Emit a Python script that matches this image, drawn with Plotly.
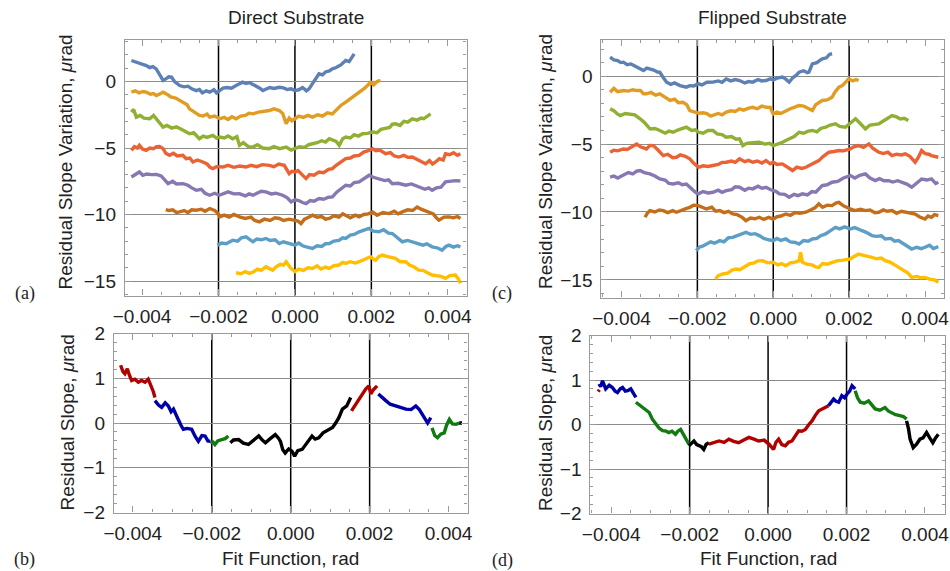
import plotly.graph_objects as go
from plotly.subplots import make_subplots

# ---------------- DATA (x in mrad, y in µrad) ----------------
series_colors = ["#5E81B5", "#E19C24", "#8FB032", "#EB6235", "#8778B3", "#C56E1A", "#5D9EC7", "#FFBF00"]

direct_1 = [(-4.28,1.58),(-4.15,1.45),(-4.05,1.38),(-3.95,1.25),(-3.89,1.2),(-3.8,1.05),(-3.72,1.12),(-3.63,0.95),(-3.55,0.6),(-3.45,0.08),(-3.38,0.2),(-3.3,0.35),(-3.23,0.33),(-3.15,0.0),(-3.08,-0.15),(-3.02,-0.3),(-2.9,-0.4),(-2.8,-0.35),(-2.7,-0.55),(-2.58,-0.68),(-2.5,-0.6),(-2.42,-0.85),(-2.32,-0.7),(-2.23,-0.8),(-2.12,-0.62),(-2.05,-0.85),(-1.97,-0.68),(-1.88,-0.5),(-1.78,-0.45),(-1.66,-0.5),(-1.54,-0.3),(-1.45,-0.18),(-1.37,-0.05),(-1.28,-0.15),(-1.2,-0.08),(-1.1,-0.22),(-1.0,-0.35),(-0.92,-0.5),(-0.84,-0.68),(-0.75,-0.55),(-0.66,-0.45),(-0.55,-0.52),(-0.41,-0.43),(-0.3,-0.48),(-0.2,-0.6),(-0.1,-0.55),(0,-0.68),(0.1,-0.62),(0.2,-0.45),(0.3,-0.7),(0.37,-0.55),(0.45,-0.2),(0.55,0.25),(0.63,0.58),(0.72,0.5),(0.8,0.72),(0.9,0.8),(0.98,0.95),(1.08,1.05),(1.2,1.25),(1.33,1.58),(1.42,1.5),(1.5,1.85),(1.55,2.08)]
direct_2 = [(-4.28,-0.8),(-4.18,-0.7),(-4.08,-0.85),(-3.98,-0.75),(-3.89,-0.8),(-3.78,-0.95),(-3.7,-0.9),(-3.63,-1.05),(-3.55,-0.95),(-3.45,-0.8),(-3.35,-0.95),(-3.25,-1.15),(-3.12,-1.25),(-3.02,-1.43),(-2.9,-1.6),(-2.82,-1.75),(-2.76,-2.05),(-2.65,-2.3),(-2.58,-2.4),(-2.5,-2.55),(-2.4,-2.6),(-2.3,-2.45),(-2.23,-2.68),(-2.1,-2.6),(-1.97,-2.8),(-1.85,-2.7),(-1.75,-2.85),(-1.65,-2.65),(-1.54,-2.8),(-1.42,-2.6),(-1.3,-2.55),(-1.2,-2.38),(-1.1,-2.43),(-0.95,-2.3),(-0.8,-2.25),(-0.67,-2.18),(-0.55,-2.05),(-0.41,-2.18),(-0.32,-2.4),(-0.23,-3.18),(-0.15,-2.75),(-0.08,-2.95),(0,-2.8),(0.1,-2.6),(0.22,-2.7),(0.34,-2.55),(0.46,-2.68),(0.6,-2.5),(0.72,-2.6),(0.85,-2.35),(0.98,-2.43),(1.1,-2.05),(1.2,-1.8),(1.33,-1.55),(1.45,-1.3),(1.56,-1.1),(1.68,-0.8),(1.8,-0.55),(1.9,-0.3),(1.98,-0.05),(2.06,-0.25),(2.15,0.0),(2.24,0.08)]
direct_3 = [(-4.28,-2.3),(-4.22,-2.1),(-4.15,-2.68),(-4.05,-2.55),(-3.95,-2.75),(-3.8,-2.8),(-3.7,-2.55),(-3.6,-2.9),(-3.45,-3.43),(-3.35,-3.3),(-3.22,-3.5),(-3.1,-3.4),(-3.02,-3.55),(-2.9,-3.7),(-2.76,-3.93),(-2.65,-3.85),(-2.5,-4.3),(-2.4,-4.1),(-2.3,-4.2),(-2.15,-4.05),(-2.05,-4.25),(-1.97,-4.18),(-1.85,-4.25),(-1.75,-4.1),(-1.63,-4.3),(-1.52,-4.15),(-1.45,-4.8),(-1.35,-4.6),(-1.22,-4.9),(-1.1,-4.93),(-0.98,-4.75),(-0.85,-5.0),(-0.67,-5.05),(-0.55,-4.9),(-0.4,-5.05),(-0.23,-4.93),(-0.1,-5.15),(0,-5.05),(0.12,-4.9),(0.25,-4.95),(0.36,-4.75),(0.46,-4.68),(0.58,-4.6),(0.7,-4.45),(0.8,-4.55),(0.9,-4.3),(1.0,-4.4),(1.08,-4.5),(1.16,-4.8),(1.25,-4.3),(1.33,-4.18),(1.45,-4.25),(1.55,-4.0),(1.66,-4.1),(1.77,-3.93),(1.9,-3.9),(2.03,-3.8),(2.15,-3.85),(2.25,-3.6),(2.37,-3.55),(2.48,-3.45),(2.55,-3.2),(2.63,-3.18),(2.75,-3.3),(2.85,-3.0),(2.95,-3.05),(3.07,-2.8),(3.2,-2.9),(3.3,-2.75),(3.37,-2.8),(3.45,-2.65),(3.55,-2.43)]
direct_4 = [(-4.28,-5.18),(-4.2,-4.9),(-4.12,-5.0),(-4.07,-4.8),(-3.98,-5.1),(-3.89,-5.18),(-3.8,-5.0),(-3.7,-5.05),(-3.62,-4.9),(-3.54,-4.88),(-3.45,-5.05),(-3.38,-5.4),(-3.28,-5.55),(-3.18,-5.4),(-3.08,-5.6),(-2.93,-5.55),(-2.85,-5.8),(-2.75,-5.75),(-2.67,-6.05),(-2.55,-5.9),(-2.41,-6.05),(-2.3,-6.2),(-2.22,-6.45),(-2.15,-6.55),(-2.05,-6.4),(-1.89,-6.43),(-1.75,-6.3),(-1.6,-6.45),(-1.45,-6.35),(-1.28,-6.43),(-1.15,-6.3),(-1.0,-6.4),(-0.85,-6.25),(-0.67,-6.3),(-0.55,-6.4),(-0.42,-6.2),(-0.28,-6.3),(-0.2,-6.7),(-0.15,-6.93),(-0.08,-6.75),(0,-6.8),(0.08,-6.7),(0.18,-7.0),(0.29,-7.3),(0.38,-7.0),(0.5,-7.05),(0.63,-6.8),(0.75,-6.85),(0.88,-6.6),(0.98,-6.55),(1.08,-6.3),(1.18,-6.1),(1.33,-5.8),(1.45,-5.75),(1.55,-5.6),(1.68,-5.55),(1.8,-5.3),(1.92,-5.2),(2.03,-5.05),(2.12,-5.2),(2.22,-5.15),(2.37,-5.43),(2.5,-5.35),(2.6,-5.6),(2.72,-5.68),(2.85,-5.55),(2.95,-5.7),(3.07,-5.68),(3.2,-5.85),(3.3,-6.0),(3.42,-6.18),(3.52,-5.95),(3.6,-6.2),(3.68,-6.05),(3.78,-5.8),(3.88,-5.9),(3.94,-5.43),(4.05,-5.5),(4.15,-5.35),(4.25,-5.55),(4.33,-5.43)]
direct_5 = [(-4.28,-7.18),(-4.2,-7.05),(-4.12,-6.95),(-4.07,-6.8),(-3.98,-7.05),(-3.88,-6.95),(-3.75,-7.0),(-3.63,-6.98),(-3.5,-7.1),(-3.4,-7.45),(-3.32,-7.68),(-3.2,-7.5),(-3.1,-7.7),(-2.93,-7.68),(-2.8,-7.8),(-2.7,-8.0),(-2.58,-8.18),(-2.45,-8.1),(-2.35,-8.4),(-2.23,-8.55),(-2.1,-8.4),(-1.98,-8.55),(-1.89,-8.43),(-1.75,-8.3),(-1.6,-8.45),(-1.45,-8.43),(-1.3,-8.6),(-1.2,-8.45),(-1.1,-8.55),(-0.98,-8.35),(-0.88,-8.25),(-0.76,-8.3),(-0.62,-8.45),(-0.5,-8.4),(-0.32,-8.55),(-0.2,-8.75),(-0.1,-9.05),(0.0,-8.9),(0.1,-8.95),(0.2,-9.1),(0.29,-9.18),(0.4,-8.95),(0.5,-9.0),(0.63,-8.8),(0.75,-8.85),(0.88,-8.7),(0.98,-8.68),(1.1,-8.3),(1.2,-8.1),(1.33,-7.8),(1.45,-7.85),(1.55,-7.6),(1.68,-7.55),(1.8,-7.3),(1.94,-7.05),(2.05,-7.2),(2.2,-7.3),(2.35,-7.45),(2.45,-7.4),(2.55,-7.68),(2.7,-7.65),(2.9,-7.8),(3.05,-7.7),(3.24,-7.93),(3.4,-8.1),(3.5,-8.0),(3.59,-8.18),(3.7,-8.0),(3.82,-7.95),(3.94,-7.55),(4.05,-7.5),(4.2,-7.45),(4.33,-7.48)]
direct_6 = [(-3.38,-9.63),(-3.3,-9.7),(-3.2,-9.65),(-3.1,-9.85),(-3.02,-9.8),(-2.9,-9.7),(-2.8,-9.85),(-2.7,-9.65),(-2.58,-9.68),(-2.45,-9.6),(-2.35,-9.75),(-2.23,-9.55),(-2.1,-9.7),(-2.02,-9.9),(-1.97,-10.18),(-1.85,-10.05),(-1.72,-10.2),(-1.6,-10.0),(-1.45,-10.18),(-1.3,-10.3),(-1.15,-10.2),(-1.05,-10.45),(-0.93,-10.55),(-0.8,-10.35),(-0.65,-10.45),(-0.52,-10.25),(-0.41,-10.3),(-0.3,-10.45),(-0.15,-10.35),(0,-10.43),(0.08,-10.5),(0.16,-10.68),(0.25,-10.35),(0.36,-10.2),(0.46,-10.05),(0.58,-10.2),(0.7,-10.15),(0.8,-10.35),(0.9,-10.3),(1.02,-10.1),(1.15,-10.2),(1.25,-9.95),(1.33,-10.05),(1.45,-10.25),(1.58,-10.05),(1.68,-10.18),(1.8,-10.0),(1.92,-9.95),(2.03,-9.8),(2.15,-10.05),(2.3,-9.85),(2.46,-9.93),(2.6,-9.75),(2.7,-9.95),(2.81,-9.8),(2.95,-9.65),(3.08,-9.7),(3.2,-9.43),(3.3,-9.6),(3.4,-9.7),(3.5,-9.8),(3.62,-9.95),(3.7,-10.25),(3.77,-10.43),(3.9,-10.2),(4.03,-10.18),(4.15,-10.25),(4.25,-10.15),(4.33,-10.3)]
direct_7 = [(-2.03,-12.3),(-1.92,-12.15),(-1.8,-12.2),(-1.7,-12.0),(-1.63,-11.93),(-1.5,-12.0),(-1.4,-11.75),(-1.28,-11.68),(-1.2,-11.85),(-1.1,-12.05),(-1.0,-11.85),(-0.88,-11.9),(-0.76,-11.8),(-0.65,-11.95),(-0.52,-11.9),(-0.41,-12.18),(-0.3,-12.05),(-0.15,-12.2),(0,-12.3),(0.1,-12.15),(0.2,-12.35),(0.32,-12.45),(0.46,-12.55),(0.58,-12.35),(0.7,-12.4),(0.8,-12.2),(0.9,-12.18),(1.02,-12.0),(1.15,-11.95),(1.25,-11.75),(1.33,-11.8),(1.45,-11.55),(1.55,-11.5),(1.68,-11.3),(1.8,-11.2),(1.94,-11.05),(2.05,-11.25),(2.2,-11.3),(2.32,-11.15),(2.45,-11.4),(2.55,-11.43),(2.65,-11.7),(2.81,-12.05),(2.95,-11.95),(3.1,-12.1),(3.24,-12.18),(3.35,-12.3),(3.45,-12.2),(3.59,-12.43),(3.72,-12.5),(3.85,-12.68),(3.95,-12.4),(4.03,-12.3),(4.15,-12.45),(4.25,-12.35),(4.33,-12.43)]
direct_8 = [(-1.54,-14.38),(-1.42,-14.45),(-1.3,-14.3),(-1.19,-14.43),(-1.08,-14.3),(-0.98,-14.1),(-0.88,-14.2),(-0.76,-13.93),(-0.68,-14.05),(-0.58,-14.18),(-0.48,-13.9),(-0.38,-13.75),(-0.3,-13.8),(-0.23,-13.55),(-0.12,-14.0),(0,-14.3),(0.1,-14.1),(0.22,-14.2),(0.34,-14.0),(0.46,-14.05),(0.58,-13.85),(0.68,-14.1),(0.8,-13.95),(0.9,-14.05),(1.02,-13.85),(1.15,-13.8),(1.25,-13.6),(1.33,-13.68),(1.45,-13.55),(1.58,-13.65),(1.68,-13.55),(1.8,-13.4),(1.9,-13.3),(1.98,-13.18),(2.05,-13.35),(2.11,-13.43),(2.2,-13.15),(2.29,-13.05),(2.4,-13.15),(2.52,-13.2),(2.63,-13.3),(2.75,-13.55),(2.9,-13.55),(3.0,-13.8),(3.12,-13.95),(3.24,-14.18),(3.35,-14.2),(3.48,-14.4),(3.59,-14.55),(3.7,-14.6),(3.82,-14.65),(3.94,-14.8),(4.05,-14.6),(4.2,-14.55),(4.28,-14.85),(4.33,-15.18)]

flipped_1 = [(-4.3,1.4),(-4.2,1.2),(-4.1,1.15),(-4.02,1.0),(-3.95,1.03),(-3.85,0.85),(-3.75,0.9),(-3.6,0.66),(-3.5,0.55),(-3.42,0.42),(-3.33,0.6),(-3.25,0.54),(-3.15,0.45),(-3.05,0.3),(-2.99,0.29),(-2.9,-0.1),(-2.81,-0.44),(-2.7,-0.6),(-2.6,-0.5),(-2.46,-0.69),(-2.38,-0.75),(-2.29,-0.81),(-2.2,-0.7),(-2.1,-0.72),(-1.97,-0.57),(-1.88,-0.65),(-1.75,-0.45),(-1.59,-0.44),(-1.45,-0.35),(-1.35,-0.45),(-1.24,-0.2),(-1.12,-0.35),(-1.0,-0.25),(-0.89,-0.32),(-0.75,-0.5),(-0.65,-0.4),(-0.54,-0.44),(-0.4,-0.25),(-0.3,-0.35),(-0.19,-0.32),(-0.08,-0.2),(0,-0.27),(0.1,-0.15),(0.24,-0.07),(0.32,-0.2),(0.42,-0.44),(0.52,-0.1),(0.6,0.05),(0.68,0.29),(0.8,0.4),(0.9,0.25),(0.94,0.29),(1.03,0.91),(1.15,1.0),(1.22,1.15),(1.29,1.28),(1.4,1.35),(1.48,1.6),(1.55,1.65)]
flipped_2 = [(-4.3,-1.18),(-4.2,-0.9),(-4.1,-1.15),(-3.95,-1.06),(-3.82,-1.1),(-3.7,-1.0),(-3.6,-1.06),(-3.5,-1.05),(-3.42,-1.3),(-3.34,-1.3),(-3.22,-1.2),(-3.1,-1.4),(-2.99,-1.3),(-2.85,-1.55),(-2.72,-1.79),(-2.6,-1.7),(-2.5,-1.95),(-2.38,-1.92),(-2.28,-2.1),(-2.2,-2.53),(-2.1,-2.6),(-1.97,-2.73),(-1.85,-2.7),(-1.75,-2.75),(-1.65,-2.95),(-1.59,-2.9),(-1.45,-2.75),(-1.35,-2.85),(-1.24,-2.65),(-1.12,-2.55),(-1.0,-2.6),(-0.89,-2.41),(-0.78,-2.5),(-0.65,-2.35),(-0.54,-2.29),(-0.42,-2.4),(-0.3,-2.2),(-0.19,-2.29),(-0.08,-2.3),(0,-2.78),(0.1,-2.65),(0.2,-2.75),(0.33,-2.53),(0.45,-2.4),(0.55,-2.3),(0.68,-2.16),(0.8,-2.2),(0.92,-2.35),(1.03,-2.53),(1.12,-2.1),(1.2,-1.95),(1.29,-1.79),(1.42,-1.75),(1.55,-1.55),(1.62,-1.2),(1.73,-0.81),(1.82,-0.7),(1.9,-0.45),(1.99,-0.2),(2.1,-0.35),(2.18,-0.25),(2.25,-0.32)]
flipped_3 = [(-4.3,-2.41),(-4.2,-2.55),(-4.1,-2.8),(-4.03,-2.9),(-3.9,-2.75),(-3.77,-2.78),(-3.65,-2.85),(-3.51,-3.14),(-3.4,-3.4),(-3.25,-3.88),(-3.12,-3.85),(-2.99,-4.0),(-2.85,-4.2),(-2.75,-4.05),(-2.64,-4.13),(-2.5,-3.95),(-2.4,-3.85),(-2.29,-3.76),(-2.15,-4.0),(-2.05,-3.95),(-1.97,-4.13),(-1.85,-4.2),(-1.72,-4.0),(-1.59,-4.0),(-1.48,-4.25),(-1.35,-4.3),(-1.24,-4.5),(-1.1,-4.45),(-0.98,-4.65),(-0.89,-4.62),(-0.8,-5.11),(-0.7,-4.95),(-0.55,-4.9),(-0.37,-4.86),(-0.22,-5.0),(-0.1,-4.95),(0,-5.11),(0.12,-5.0),(0.22,-4.9),(0.33,-4.74),(0.45,-4.55),(0.55,-4.45),(0.68,-4.13),(0.8,-4.2),(0.92,-4.05),(1.03,-4.0),(1.15,-4.1),(1.25,-3.85),(1.38,-3.76),(1.5,-3.6),(1.64,-3.51),(1.75,-3.7),(1.9,-3.76),(2.0,-3.5),(2.1,-3.3),(2.17,-3.14),(2.28,-3.45),(2.43,-3.88),(2.55,-3.6),(2.65,-3.55),(2.78,-3.51),(2.9,-3.3),(3.0,-3.1),(3.13,-2.9),(3.25,-3.0),(3.35,-3.15),(3.45,-3.1),(3.56,-3.27)]
flipped_4 = [(-4.3,-5.6),(-4.2,-5.45),(-4.1,-5.5),(-3.95,-5.36),(-3.85,-5.4),(-3.72,-5.2),(-3.6,-4.99),(-3.5,-5.2),(-3.42,-5.3),(-3.34,-5.36),(-3.25,-5.1),(-3.16,-5.11),(-3.05,-5.4),(-2.9,-5.85),(-2.78,-5.75),(-2.65,-6.0),(-2.55,-5.97),(-2.45,-5.8),(-2.32,-5.9),(-2.2,-6.09),(-2.1,-6.4),(-1.97,-6.71),(-1.85,-6.6),(-1.72,-6.65),(-1.59,-6.58),(-1.45,-6.5),(-1.35,-6.35),(-1.24,-6.34),(-1.1,-6.25),(-1.0,-6.35),(-0.89,-6.09),(-0.75,-6.3),(-0.65,-6.2),(-0.54,-6.34),(-0.42,-6.25),(-0.3,-6.4),(-0.19,-6.22),(-0.08,-6.45),(0,-6.34),(0.1,-6.5),(0.24,-6.46),(0.38,-6.7),(0.51,-6.95),(0.62,-6.7),(0.75,-6.8),(0.86,-6.71),(0.98,-6.55),(1.1,-6.4),(1.2,-6.22),(1.32,-5.9),(1.47,-5.6),(1.6,-5.55),(1.73,-5.48),(1.85,-5.5),(2.03,-5.36),(2.12,-5.2),(2.25,-5.11),(2.38,-5.25),(2.52,-4.99),(2.62,-5.3),(2.78,-5.6),(2.9,-5.7),(3.02,-5.6),(3.13,-5.85),(3.25,-5.75),(3.38,-5.8),(3.48,-5.72),(3.6,-5.9),(3.74,-6.34),(3.82,-6.0),(3.91,-5.48),(4.0,-5.7),(4.1,-5.75),(4.17,-5.85),(4.28,-5.9),(4.35,-5.97)]
flipped_5 = [(-4.3,-7.44),(-4.2,-7.35),(-4.1,-7.5),(-3.95,-7.32),(-3.82,-7.1),(-3.7,-7.2),(-3.6,-7.0),(-3.51,-6.95),(-3.4,-7.1),(-3.25,-7.2),(-3.12,-7.35),(-2.99,-7.57),(-2.85,-7.65),(-2.75,-7.9),(-2.64,-7.94),(-2.5,-7.85),(-2.4,-8.0),(-2.29,-7.94),(-2.15,-8.3),(-2.05,-8.55),(-1.97,-8.67),(-1.85,-8.5),(-1.72,-8.6),(-1.59,-8.55),(-1.45,-8.4),(-1.35,-8.55),(-1.24,-8.43),(-1.1,-8.35),(-1.0,-8.15),(-0.89,-8.18),(-0.75,-8.4),(-0.65,-8.25),(-0.54,-8.3),(-0.4,-8.1),(-0.3,-8.25),(-0.19,-8.18),(-0.08,-8.35),(0,-8.43),(0.08,-8.5),(0.16,-8.67),(0.3,-8.7),(0.42,-8.92),(0.55,-8.7),(0.65,-8.8),(0.77,-8.67),(0.9,-8.75),(1.02,-8.5),(1.12,-8.55),(1.2,-8.3),(1.29,-8.06),(1.42,-8.0),(1.55,-7.81),(1.7,-7.75),(1.85,-7.5),(2.03,-7.32),(2.15,-7.5),(2.28,-7.3),(2.43,-7.2),(2.55,-7.5),(2.69,-7.69),(2.8,-7.55),(2.92,-7.7),(3.04,-7.69),(3.15,-7.8),(3.28,-7.7),(3.39,-7.81),(3.52,-7.95),(3.65,-8.18),(3.78,-7.9),(3.91,-7.57),(4.05,-7.65),(4.17,-7.57),(4.28,-7.9),(4.35,-7.81)]
flipped_6 = [(-3.38,-10.39),(-3.32,-10.1),(-3.25,-9.9),(-3.12,-10.0),(-3.0,-9.85),(-2.9,-9.9),(-2.78,-10.05),(-2.65,-9.9),(-2.55,-10.02),(-2.42,-9.85),(-2.3,-9.75),(-2.2,-9.66),(-2.1,-9.5),(-1.97,-9.53),(-1.85,-9.7),(-1.76,-9.78),(-1.62,-9.65),(-1.52,-9.95),(-1.41,-9.9),(-1.3,-10.05),(-1.18,-9.95),(-1.07,-10.15),(-0.95,-10.2),(-0.82,-10.4),(-0.72,-10.64),(-0.6,-10.45),(-0.48,-10.5),(-0.37,-10.39),(-0.25,-10.55),(-0.12,-10.4),(0,-10.52),(0.1,-10.35),(0.2,-10.3),(0.33,-10.15),(0.45,-10.25),(0.58,-10.05),(0.7,-10.1),(0.86,-10.02),(0.98,-9.85),(1.1,-9.7),(1.2,-9.41),(1.3,-9.65),(1.42,-9.5),(1.55,-9.53),(1.65,-9.35),(1.73,-9.29),(1.85,-9.55),(1.95,-9.7),(2.03,-9.78),(2.15,-9.9),(2.3,-9.8),(2.43,-9.9),(2.55,-9.85),(2.68,-10.05),(2.78,-10.02),(2.9,-9.85),(3.0,-9.95),(3.13,-9.9),(3.25,-10.1),(3.38,-9.95),(3.48,-10.02),(3.6,-10.1),(3.74,-10.15),(3.85,-10.35),(4.0,-10.52),(4.08,-10.3),(4.17,-10.39),(4.25,-10.2),(4.35,-10.27)]
flipped_7 = [(-2.03,-12.85),(-1.95,-12.6),(-1.85,-12.5),(-1.76,-12.36),(-1.65,-12.2),(-1.55,-12.3),(-1.41,-12.11),(-1.3,-12.2),(-1.18,-11.9),(-1.07,-11.87),(-0.95,-11.75),(-0.82,-11.6),(-0.72,-11.5),(-0.6,-11.65),(-0.48,-11.6),(-0.37,-11.74),(-0.25,-11.95),(-0.12,-12.05),(0,-12.11),(0.1,-11.95),(0.2,-12.1),(0.33,-11.99),(0.45,-12.2),(0.58,-12.25),(0.68,-12.36),(0.8,-12.1),(0.92,-12.15),(1.03,-11.99),(1.15,-11.95),(1.25,-11.75),(1.38,-11.62),(1.5,-11.4),(1.64,-11.13),(1.75,-11.25),(1.88,-11.1),(2.03,-11.25),(2.15,-11.15),(2.34,-11.38),(2.45,-11.5),(2.6,-11.74),(2.72,-11.8),(2.85,-11.75),(2.95,-11.99),(3.1,-11.95),(3.2,-12.15),(3.3,-12.11),(3.42,-12.3),(3.55,-12.55),(3.65,-12.73),(3.78,-12.6),(3.9,-12.7),(4.0,-12.6),(4.12,-12.45),(4.22,-12.7),(4.35,-12.56)]
flipped_8 = [(-1.52,-14.94),(-1.45,-14.7),(-1.33,-14.57),(-1.2,-14.5),(-1.1,-14.3),(-0.98,-14.2),(-0.88,-14.25),(-0.75,-14.0),(-0.63,-13.83),(-0.5,-13.75),(-0.4,-13.6),(-0.28,-13.59),(-0.15,-13.75),(0,-13.71),(0.12,-13.9),(0.22,-13.8),(0.33,-13.96),(0.45,-13.75),(0.58,-13.7),(0.68,-13.59),(0.72,-12.97),(0.77,-13.71),(0.9,-13.85),(1.02,-13.9),(1.12,-14.05),(1.2,-14.08),(1.3,-13.8),(1.42,-13.85),(1.55,-13.71),(1.68,-13.6),(1.85,-13.55),(2.03,-13.46),(2.12,-13.3),(2.25,-13.1),(2.38,-13.2),(2.5,-13.25),(2.6,-13.34),(2.72,-13.45),(2.85,-13.4),(2.95,-13.59),(3.08,-13.7),(3.2,-13.9),(3.3,-14.08),(3.42,-14.3),(3.55,-14.5),(3.65,-14.82),(3.78,-14.75),(3.9,-14.85),(4.0,-14.82),(4.12,-14.95),(4.25,-15.0),(4.35,-15.18)]

direct_series = [direct_1, direct_2, direct_3, direct_4, direct_5, direct_6, direct_7, direct_8]
flipped_series = [flipped_1, flipped_2, flipped_3, flipped_4, flipped_5, flipped_6, flipped_7, flipped_8]

seg_colors = {"red": "#B00000", "blue": "#0000A8", "green": "#117A11", "black": "#000000"}

direct_residual = [
    ("red",   [(-4.31,1.29),(-4.25,1.15),(-4.2,1.1),(-4.14,1.21),(-4.08,1.05),(-4.03,0.95),(-3.95,0.98),(-3.86,0.91),(-3.78,0.95),(-3.69,0.91),(-3.61,0.98),(-3.53,0.83),(-3.48,0.7),(-3.44,0.57)]),
    ("blue",  [(-3.44,0.5),(-3.35,0.4),(-3.27,0.35),(-3.18,0.45),(-3.1,0.38),(-3.03,0.25),(-2.97,0.31),(-2.9,0.15),(-2.85,0.08),(-2.78,-0.05),(-2.72,-0.14),(-2.62,-0.12),(-2.51,-0.14),(-2.42,-0.3),(-2.34,-0.41),(-2.25,-0.28),(-2.17,-0.29),(-2.1,-0.4),(-2.04,-0.41)]),
    ("green", [(-2.04,-0.44),(-1.98,-0.42),(-1.92,-0.48),(-1.85,-0.4),(-1.75,-0.37),(-1.66,-0.35),(-1.58,-0.29)]),
    ("black", [(-1.53,-0.44),(-1.45,-0.38),(-1.32,-0.37),(-1.2,-0.45),(-1.07,-0.48),(-0.95,-0.4),(-0.81,-0.29),(-0.72,-0.38),(-0.64,-0.44),(-0.52,-0.35),(-0.39,-0.26),(-0.3,-0.35),(-0.26,-0.41),(-0.2,-0.6),(-0.14,-0.67),(-0.05,-0.58),(0.03,-0.63),(0.1,-0.74),(0.18,-0.62),(0.29,-0.59),(0.4,-0.45),(0.54,-0.29),(0.62,-0.36),(0.71,-0.33),(0.82,-0.22),(0.97,-0.14),(1.06,-0.1),(1.14,0.0),(1.22,0.12),(1.31,0.31),(1.42,0.38),(1.52,0.57)]),
    ("red",   [(1.54,0.27),(1.62,0.38),(1.73,0.5),(1.82,0.65),(1.9,0.76),(1.98,0.83),(2.03,0.65),(2.1,0.75),(2.19,0.83)]),
    ("blue",  [(2.22,0.65),(2.3,0.58),(2.41,0.5),(2.52,0.42),(2.66,0.38),(2.78,0.35),(2.92,0.31),(3.05,0.3),(3.17,0.38),(3.26,0.3),(3.34,0.2),(3.4,0.1),(3.47,0.0),(3.55,0.12)]),
    ("green", [(3.58,-0.11),(3.65,-0.28),(3.72,-0.33),(3.8,-0.25),(3.89,-0.22),(3.95,-0.05),(4.02,0.08),(4.1,-0.02),(4.19,-0.03),(4.27,0.0)]),
    ("black", [(4.27,0.0),(4.34,0.0)]),
]
flipped_residual = [
    ("red",   [(-4.33,0.74),(-4.3,0.78)]),
    ("blue",  [(-4.31,0.91),(-4.27,0.85),(-4.22,0.98),(-4.14,0.8),(-4.05,0.88),(-3.97,0.83),(-3.9,0.75),(-3.84,0.72),(-3.77,0.8),(-3.71,0.83),(-3.64,0.75),(-3.58,0.76),(-3.5,0.8),(-3.43,0.7),(-3.37,0.61)]),
    ("green", [(-3.37,0.5),(-3.3,0.45),(-3.2,0.38),(-3.12,0.32),(-3.03,0.27),(-2.95,0.12),(-2.86,0.0),(-2.78,-0.08),(-2.69,-0.14),(-2.6,-0.15),(-2.53,-0.18),(-2.45,-0.15),(-2.36,-0.22),(-2.3,-0.15),(-2.23,-0.11),(-2.15,-0.25),(-2.1,-0.33),(-2.02,-0.44)]),
    ("black", [(-2.02,-0.48),(-1.95,-0.42),(-1.89,-0.37),(-1.82,-0.45),(-1.76,-0.48),(-1.7,-0.5),(-1.64,-0.56),(-1.58,-0.45),(-1.51,-0.41)]),
    ("red",   [(-1.51,-0.44),(-1.38,-0.4),(-1.25,-0.37),(-1.12,-0.4),(-1.0,-0.33),(-0.88,-0.38),(-0.75,-0.41),(-0.62,-0.35),(-0.49,-0.29),(-0.36,-0.33),(-0.24,-0.37),(-0.1,-0.35),(0.02,-0.44),(0.14,-0.56),(0.2,-0.4),(0.27,-0.33),(0.35,-0.45),(0.44,-0.48),(0.52,-0.4),(0.61,-0.37),(0.7,-0.25),(0.78,-0.14),(0.86,-0.15),(0.95,-0.11),(1.04,0.0),(1.12,0.08),(1.2,0.2),(1.29,0.31),(1.38,0.35),(1.46,0.38),(1.54,0.42)]),
    ("blue",  [(1.54,0.42),(1.6,0.5),(1.67,0.57),(1.73,0.52),(1.8,0.5),(1.88,0.65),(1.95,0.6),(2.01,0.68),(2.08,0.75),(2.14,0.87),(2.22,0.8)]),
    ("green", [(2.22,0.76),(2.28,0.6),(2.35,0.5),(2.45,0.48),(2.56,0.53),(2.65,0.42),(2.73,0.35),(2.85,0.32),(2.98,0.38),(3.07,0.3),(3.15,0.27),(3.25,0.22),(3.36,0.2),(3.45,0.18),(3.53,0.12)]),
    ("black", [(3.53,0.08),(3.58,-0.1),(3.62,-0.33),(3.66,-0.45),(3.7,-0.52),(3.78,-0.45),(3.87,-0.33),(3.95,-0.3),(4.04,-0.18),(4.12,-0.3),(4.2,-0.41),(4.27,-0.3),(4.34,-0.22)]),
]

x_tick_values = [-0.004, -0.002, 0.0, 0.002, 0.004]
black_grid_x = [-0.002, 0.0, 0.002]
top_y_ticks = [0, -5, -10, -15]
bottom_y_ticks = [-2, -1, 0, 1, 2]

# ---------------- FIGURE ----------------
W, H = 950, 571
# empirical mapping of the rendered page (offset, effective size)
X_OFF, X_EFF = 9.0, 934.0
Y_OFF, Y_EFF = 9.5, 550.0
fig = make_subplots(rows=2, cols=2)

def pxx(xp):
    return (xp - X_OFF) / X_EFF

def py(yp):
    return 1 - (yp - Y_OFF) / Y_EFF

def px_x(a, b):
    return [max(0.0, pxx(a)), min(1.0, pxx(b))]

def px_y(top, bottom):
    return [py(bottom), py(top)]

MRAD = 1e-3
LW = 3.4

for s, c in zip(direct_series, series_colors):
    fig.add_trace(go.Scatter(x=[p[0] * MRAD for p in s], y=[p[1] for p in s], mode="lines",
                             line=dict(color=c, width=LW), showlegend=False), row=1, col=1)
for s, c in zip(flipped_series, series_colors):
    fig.add_trace(go.Scatter(x=[p[0] * MRAD for p in s], y=[p[1] for p in s], mode="lines",
                             line=dict(color=c, width=LW), showlegend=False), row=1, col=2)
for name, s in direct_residual:
    fig.add_trace(go.Scatter(x=[p[0] * MRAD for p in s], y=[p[1] for p in s], mode="lines",
                             line=dict(color=seg_colors[name], width=LW), showlegend=False), row=2, col=1)
for name, s in flipped_residual:
    fig.add_trace(go.Scatter(x=[p[0] * MRAD for p in s], y=[p[1] for p in s], mode="lines",
                             line=dict(color=seg_colors[name], width=LW), showlegend=False), row=2, col=2)

tick_font = dict(family="Liberation Sans, Arial, sans-serif", size=19, color="#222222")
frame_col = "#9a9a9a"

def xaxis_style(domain, rng):
    return dict(domain=domain, range=rng, tickvals=x_tick_values, tickformat=".3f",
                ticks="inside", ticklen=6, tickwidth=1, tickcolor=frame_col,
                minor=dict(dtick=0.0005, tick0=0, ticks="inside", ticklen=3, tickcolor=frame_col, showgrid=False),
                showline=True, linecolor=frame_col, linewidth=1.2, mirror="ticks",
                showgrid=False, zeroline=False, tickfont=tick_font, ticklabelstandoff=4)

def yaxis_style(domain, rng, vals, minor_dt):
    return dict(domain=domain, range=rng, tickvals=vals,
                ticks="inside", ticklen=6, tickwidth=1, tickcolor=frame_col,
                minor=dict(dtick=minor_dt, tick0=0, ticks="inside", ticklen=3, tickcolor=frame_col, showgrid=False),
                showline=True, linecolor=frame_col, linewidth=1.2, mirror="ticks",
                showgrid=True, gridcolor="#8c8c8c", gridwidth=1.3, zeroline=False,
                tickfont=tick_font, ticklabelstandoff=4)

fig.update_layout(
    xaxis=xaxis_style(px_x(122, 464), [-0.00445, 0.00449]),
    yaxis=yaxis_style(px_y(39, 295), [-16.09, 3.16], top_y_ticks, 1),
    xaxis2=xaxis_style(px_x(599, 942), [-0.00453, 0.0045]),
    yaxis2=yaxis_style(px_y(39, 297), [-16.3, 2.7], top_y_ticks, 1),
    xaxis3=xaxis_style(px_x(111, 465), [-0.00448, 0.00448]),
    yaxis3=yaxis_style(px_y(333, 512), [-2, 2], bottom_y_ticks, 0.2),
    xaxis4=xaxis_style(px_x(588, 943), [-0.00453, 0.00451]),
    yaxis4=yaxis_style(px_y(335, 513), [-2, 2], bottom_y_ticks, 0.2),
)

for r in (1, 2):
    for c in (1, 2):
        for xv in black_grid_x:
            fig.add_vline(x=xv, line=dict(color="#000000", width=1.5), layer="below", row=r, col=c)

label_font = dict(family="Liberation Sans, Arial, sans-serif", size=19, color="#222222")
serif_font = dict(family="Liberation Serif, Times New Roman, serif", size=18, color="#222222")

def ann(text, xp, yp, font, angle=0):
    fig.add_annotation(text=text, x=pxx(xp), y=py(yp), xref="paper", yref="paper",
                       showarrow=False, font=font, textangle=angle, xanchor="center", yanchor="middle")

ann("Direct Substrate", 293, 17, label_font)
ann("Flipped Substrate", 770, 17, label_font)
ann("Residual Slope Variation, <i>μ</i>rad", 63, 161, label_font, -90)
ann("Residual Slope Variation, <i>μ</i>rad", 543, 161, label_font, -90)
ann("Residual Slope, <i>μ</i>rad", 65, 422, label_font, -90)
ann("Residual Slope, <i>μ</i>rad", 543, 422, label_font, -90)
ann("Fit Function, rad", 288, 558, label_font)
ann("Fit Function, rad", 766, 558, label_font)
ann("(a)", 22, 293, serif_font)
ann("(b)", 22, 559, serif_font)
ann("(c)", 500, 293, serif_font)
ann("(d)", 500, 560, serif_font)

fig.update_layout(width=W, height=H, margin=dict(l=0, r=0, t=0, b=0),
                  paper_bgcolor="white", plot_bgcolor="white")

fig.write_html("out.html")
